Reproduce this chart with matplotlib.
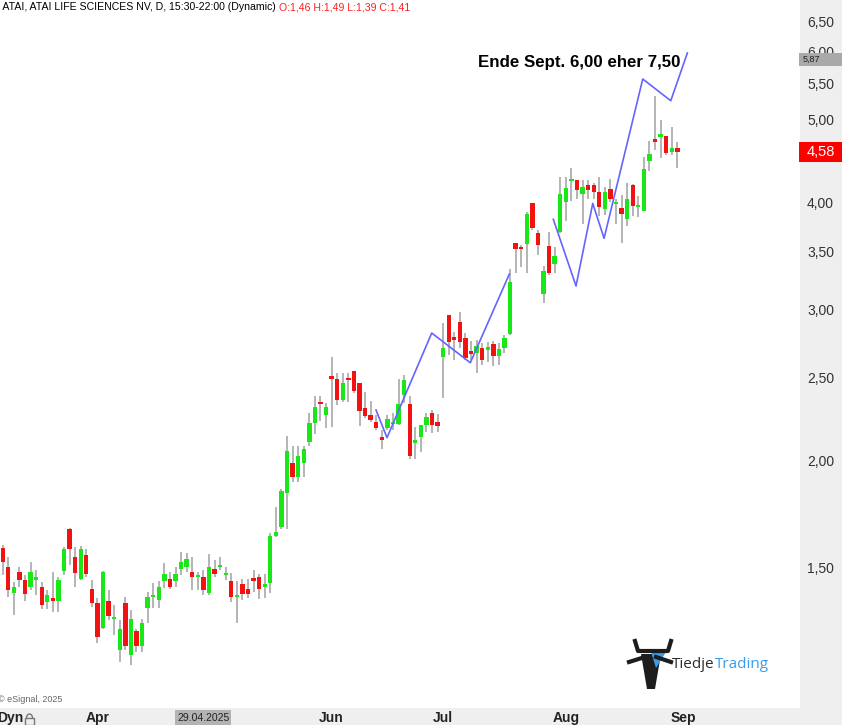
import matplotlib

matplotlib.use("Agg")
import matplotlib.pyplot as plt  # noqa: E402
import numpy as np  # noqa: E402
import pandas as pd  # noqa: E402
from matplotlib.patches import Arc, Polygon, Rectangle  # noqa: E402
from matplotlib.lines import Line2D  # noqa: E402
from matplotlib.ticker import NullFormatter, NullLocator  # noqa: E402
from matplotlib.transforms import IdentityTransform  # noqa: E402

plt.rcParams["font.family"] = ["Liberation Sans", "DejaVu Sans"]

# ATAI daily candles, 07.03.2025 .. 29.08.2025
opens = [1.58, 1.50, 1.40, 1.48, 1.45, 1.42, 1.45, 1.42, 1.365, 1.38,
         1.37, 1.484, 1.661, 1.543, 1.452, 1.549, 1.413, 1.363, 1.273, 1.369,
         1.304, 1.201, 1.363, 1.183, 1.262, 1.212, 1.344, 1.383, 1.373, 1.443,
         1.452, 1.443, 1.491, 1.502, 1.481, 1.460, 1.46, 1.398, 1.491, 1.499,
         1.468, 1.443, 1.384, 1.434, 1.413, 1.452, 1.462, 1.423, 1.437, 1.630,
         1.672, 1.832, 1.982, 1.912, 1.982, 2.100, 2.211, 2.337, 2.258, 2.508,
         2.485, 2.350, 2.495, 2.542, 2.461, 2.298, 2.258, 2.216, 2.126, 2.181,
         2.201, 2.202, 2.382, 2.325, 2.091, 2.125, 2.198, 2.272, 2.216, 2.640,
         2.951, 2.785, 2.895, 2.773, 2.683, 2.665, 2.704, 2.688, 2.732, 2.647,
         2.704, 2.809, 3.589, 3.549, 3.570, 3.992, 3.685, 3.127, 3.555, 3.388,
         3.695, 4.002, 4.234, 4.245, 4.093, 4.189, 4.189, 4.114, 3.923, 4.141,
         3.983, 3.943, 3.820, 4.189, 3.945, 3.909, 4.471, 4.718, 4.768, 4.777,
         4.581, 4.623]
highs = [1.59, 1.54, 1.44, 1.50, 1.47, 1.52, 1.49, 1.44, 1.41, 1.48,
         1.46, 1.584, 1.665, 1.584, 1.587, 1.573, 1.449, 1.379, 1.485, 1.410,
         1.355, 1.301, 1.383, 1.336, 1.271, 1.303, 1.404, 1.436, 1.443, 1.515,
         1.481, 1.502, 1.563, 1.559, 1.543, 1.481, 1.49, 1.553, 1.529, 1.543,
         1.502, 1.475, 1.443, 1.452, 1.452, 1.488, 1.472, 1.472, 1.644, 1.764,
         1.849, 2.133, 2.076, 2.076, 2.076, 2.268, 2.375, 2.375, 2.331, 2.640,
         2.526, 2.530, 2.530, 2.542, 2.461, 2.403, 2.341, 2.258, 2.168, 2.258,
         2.268, 2.485, 2.513, 2.375, 2.187, 2.198, 2.268, 2.288, 2.263, 2.890,
         2.951, 2.822, 2.979, 2.811, 2.756, 2.761, 2.741, 2.748, 2.756, 2.737,
         2.797, 3.340, 3.589, 3.565, 3.898, 3.992, 3.712, 3.369, 3.695, 3.549,
         4.276, 4.276, 4.388, 4.245, 4.245, 4.245, 4.208, 4.285, 4.170, 4.253,
         4.036, 4.077, 4.208, 4.200, 4.066, 4.511, 4.718, 5.321, 4.988, 4.777,
         4.891, 4.705]
lows = [1.47, 1.385, 1.32, 1.42, 1.37, 1.41, 1.39, 1.34, 1.34, 1.33,
        1.33, 1.468, 1.509, 1.423, 1.449, 1.462, 1.346, 1.222, 1.271, 1.301,
        1.249, 1.163, 1.199, 1.152, 1.194, 1.194, 1.290, 1.342, 1.342, 1.417,
        1.413, 1.423, 1.468, 1.481, 1.410, 1.410, 1.39, 1.391, 1.462, 1.488,
        1.447, 1.367, 1.291, 1.373, 1.379, 1.404, 1.375, 1.379, 1.399, 1.627,
        1.660, 1.660, 1.886, 1.886, 1.909, 2.076, 2.147, 2.221, 2.181, 2.184,
        2.319, 2.339, 2.339, 2.394, 2.193, 2.239, 2.214, 2.168, 2.059, 2.168,
        2.168, 2.198, 2.329, 2.004, 2.004, 2.045, 2.155, 2.150, 2.155, 2.361,
        2.653, 2.617, 2.700, 2.617, 2.617, 2.526, 2.582, 2.605, 2.575, 2.582,
        2.665, 2.797, 3.303, 3.358, 3.309, 3.712, 3.470, 3.052, 3.288, 3.303,
        3.685, 3.802, 4.012, 4.031, 3.771, 4.034, 4.031, 3.859, 3.869, 3.998,
        3.771, 3.584, 3.752, 3.854, 3.843, 3.909, 4.353, 4.602, 4.500, 4.545,
        4.545, 4.381]
closes = [1.52, 1.41, 1.42, 1.45, 1.395, 1.48, 1.46, 1.355, 1.39, 1.37,
          1.45, 1.573, 1.573, 1.475, 1.573, 1.472, 1.363, 1.242, 1.481, 1.316,
          1.312, 1.271, 1.212, 1.303, 1.212, 1.291, 1.383, 1.391, 1.423, 1.472,
          1.423, 1.472, 1.522, 1.532, 1.462, 1.465, 1.41, 1.502, 1.472, 1.504,
          1.472, 1.383, 1.391, 1.394, 1.394, 1.446, 1.413, 1.434, 1.630, 1.650,
          1.840, 2.049, 1.912, 2.022, 2.060, 2.211, 2.308, 2.323, 2.306, 2.490,
          2.350, 2.461, 2.480, 2.410, 2.281, 2.252, 2.227, 2.178, 2.110, 2.234,
          2.216, 2.325, 2.480, 2.022, 2.110, 2.198, 2.247, 2.198, 2.192, 2.704,
          2.744, 2.765, 2.744, 2.629, 2.659, 2.718, 2.617, 2.712, 2.647, 2.695,
          2.780, 3.226, 3.526, 3.526, 3.871, 3.729, 3.563, 3.324, 3.303, 3.459,
          4.085, 4.159, 4.253, 4.133, 4.170, 4.133, 4.114, 3.947, 4.114, 4.036,
          4.002, 3.874, 4.031, 3.955, 3.955, 4.369, 4.552, 4.706, 4.802, 4.566,
          4.623, 4.58]

first_day = "2025-03-07"
holidays = ["2025-04-18", "2025-05-26", "2025-06-19", "2025-07-04", "2025-09-01"]
cursor_day = "2025-04-29"

# hand-drawn target zigzag (bar index, price)
zz1_x = [66.96, 68.93, 76.95, 83.87, 90.87]
zz1_y = [2.288, 2.124, 2.814, 2.598, 3.297]
zz2_x = [98.76, 102.83, 105.83, 107.86, 114.8, 119.82, 122.8]
zz2_y = [3.820, 3.193, 3.987, 3.630, 5.570, 5.254, 5.974]
line_value = 5.87

price_ticks = [1.5, 2.0, 2.5, 3.0, 3.5, 4.0, 5.0, 5.5, 6.0, 6.5]
note = "Ende Sept. 6,00 eher 7,50"
note_at = (85.3, 5.83)
title = "* ATAI, ATAI LIFE SCIENCES NV, D, 15:30-22:00 (Dynamic) "


def de(v):
    return f"{v:.2f}".replace(".", ",")


W, H = 842, 725
fig = plt.figure(figsize=(W / 100, H / 100), dpi=100, facecolor="#efefef")
ax = fig.add_axes([0, 17 / H, 800 / W, 708 / H])
ax.set_facecolor("white")
for s in ax.spines.values():
    s.set_visible(False)

o, hi_, lo_, c = (np.array(v) for v in (opens, highs, lows, closes))
n = len(c)
x = np.arange(n)
dates = pd.bdate_range(first_day, periods=n + 19, freq="C", holidays=holidays)

ax.set_yscale("log")
ax.set_xlim(-0.48, 143.0)
ax.set_ylim(1.027, 6.888)

# candles
up = c >= o
ax.vlines(x, lo_, hi_, color="#a8a8a8", lw=1.2, zorder=1)
body_lo = np.minimum(o, c)
body_hi = np.maximum(np.maximum(o, c), body_lo * 1.006)  # keep dojis visible
ax.bar(x, body_hi - body_lo, bottom=body_lo, width=0.78,
       color=np.where(up, "#18e818", "#f21212"), linewidth=0, zorder=2)

# drawn target path
for xs, ys in ((zz1_x, zz1_y), (zz2_x, zz2_y)):
    ax.plot(xs, ys, color="#6464ff", lw=1.2, zorder=3)
ax.text(*note_at, note, fontsize=12.2, fontweight="bold", color="black",
        ha="left", va="center", zorder=4)

# y axis on the right
ax.yaxis.tick_right()
ax.yaxis.set_minor_locator(NullLocator())
ax.yaxis.set_minor_formatter(NullFormatter())
ax.set_yticks(price_ticks, labels=[de(p) for p in price_ticks])
ax.tick_params(axis="y", length=0, pad=5, labelsize=10, labelcolor="#333333")

# month labels (the one under the crosshair date box is hidden)
ci = dates.get_loc(pd.Timestamp(cursor_day))
m_pos = [i for i in range(1, len(dates))
         if dates[i].month != dates[i - 1].month and abs(i - ci) > 5]
ax.set_xticks(m_pos, labels=[dates[i].strftime("%b") for i in m_pos])
ax.tick_params(axis="x", length=0, pad=2, labelsize=10, labelcolor="#222222")
for t in ax.get_xticklabels():
    t.set_fontweight("bold")

ident = IdentityTransform()
x_right = ax.bbox.x1


def px_y(v):
    return ax.transData.transform((0, v))[1]


# price tags
y_line = px_y(line_value)
fig.add_artist(Rectangle((x_right - 1, y_line - 6.5), W - x_right + 1, 13, transform=ident,
                         fc="#a9a9a9", ec="none", zorder=5))
fig.text(x_right + 3, y_line, de(line_value), transform=ident, fontsize=6.5,
         color="#222222", va="center", ha="left", zorder=6)
y_last = px_y(c[-1])
fig.add_artist(Rectangle((x_right - 1, y_last - 10), W - x_right + 1, 20, transform=ident,
                         fc="#ff0000", ec="none", zorder=5))
fig.text((x_right + W) / 2, y_last, de(c[-1]), transform=ident, fontsize=10.5,
         color="white", va="center", ha="center", zorder=6)

# crosshair date box
cx = ax.transData.transform((ci, 1.5))[0]
fig.add_artist(Rectangle((cx - 28, 0), 56, 15, transform=ident, fc="#b3b3b3",
                         ec="none", zorder=5))
fig.text(cx, 7, dates[ci].strftime("%d.%m.%Y"), transform=ident, fontsize=7.5,
         color="#222222", ha="center", va="center", zorder=6)

# header with the cursor bar's OHLC
renderer = fig.canvas.get_renderer()
t1 = fig.text(-4, H - 7, title, transform=ident, fontsize=7.6, color="black",
              ha="left", va="center")
x_end = t1.get_window_extent(renderer).x1
fig.text(x_end, H - 7,
         f"O:{de(o[ci])} H:{de(hi_[ci])} L:{de(lo_[ci])} C:{de(c[ci])}",
         transform=ident, fontsize=7.6, color="#ff2020", ha="left", va="center")

fig.text(-2, H - 700, "© eSignal, 2025", transform=ident, fontsize=6.5,
         color="#666666", ha="left", va="center")
fig.text(-3, H - 718, "Dyn", transform=ident, fontsize=10, fontweight="bold",
         color="#222222", ha="left", va="center")
fig.add_artist(Rectangle((25, H - 725), 9, 7, transform=ident, fc="none",
                         ec="#777777", lw=1))
fig.add_artist(Arc((29.5, H - 718), 6, 8, theta1=0, theta2=180, transform=ident,
                   ec="#777777", lw=1))

# logo
dark, blue = "#1d1d1d", "#3a9be8"
fig.add_artist(Line2D([635, 638, 668, 671], [H - 641, H - 651, H - 651, H - 641],
                      transform=ident, color=dark, lw=3))
fig.add_artist(Line2D([629, 645], [H - 662, H - 657], transform=ident, color=dark, lw=3))
fig.add_artist(Line2D([671, 656], [H - 662, H - 657], transform=ident, color=dark, lw=3))
fig.add_artist(Polygon([(641, H - 654), (661, H - 654), (655, H - 689), (647, H - 689)],
                       transform=ident, fc=dark, ec="none"))
fig.add_artist(Polygon([(651, H - 652), (666, H - 652), (656, H - 668)],
                       transform=ident, fc=blue, ec="none"))
t2 = fig.text(672, H - 668, "Tiedje", transform=ident, fontsize=11, color="#2b2b2b",
              family=["Open Sans", "DejaVu Sans"], ha="left", va="baseline")
fig.text(t2.get_window_extent(renderer).x1, H - 668, "Trading", transform=ident,
         fontsize=11, color=blue, family=["Open Sans", "DejaVu Sans"],
         ha="left", va="baseline")

fig.savefig("out.png", dpi=100, facecolor=fig.get_facecolor())
